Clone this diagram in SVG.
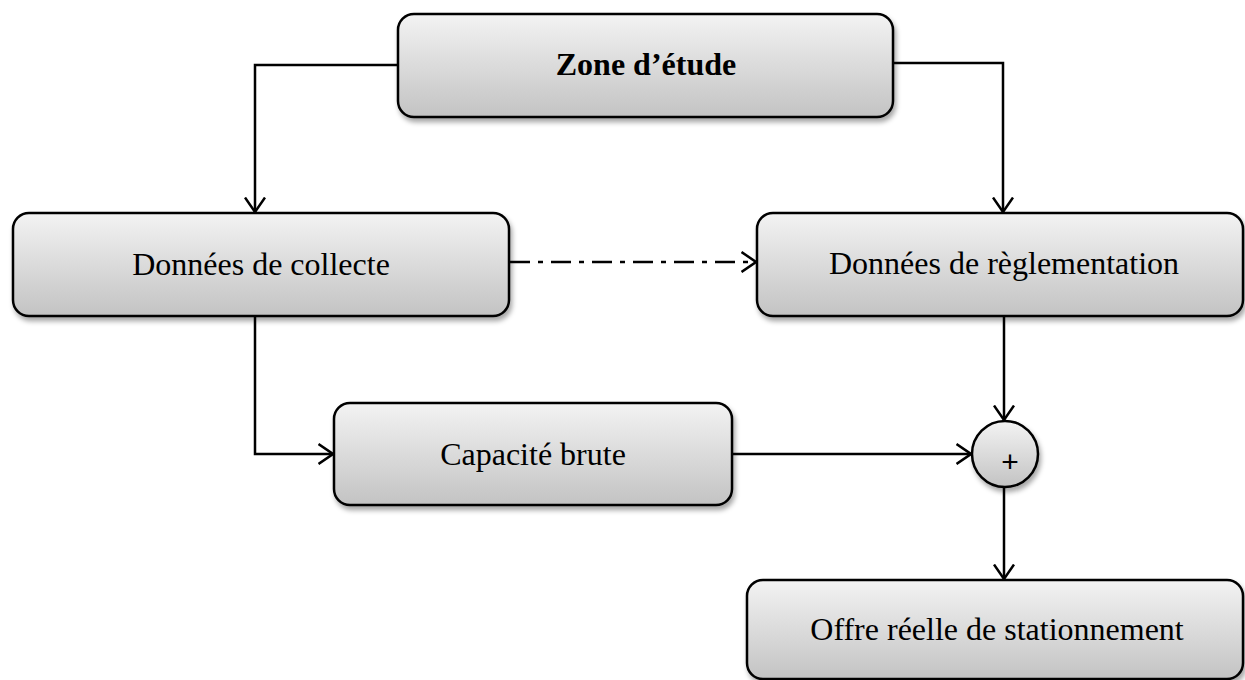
<svg xmlns="http://www.w3.org/2000/svg" width="1245" height="680" viewBox="0 0 1245 680">
  <defs>
    <linearGradient id="g" x1="0" y1="0" x2="0" y2="1">
      <stop offset="0" stop-color="#f3f3f3"/>
      <stop offset="1" stop-color="#c3c3c3"/>
    </linearGradient>
    <filter id="sh" x="-10%" y="-10%" width="125%" height="135%">
      <feDropShadow dx="2" dy="4" stdDeviation="2.5" flood-color="#000" flood-opacity="0.35"/>
    </filter>
    <marker id="arr" viewBox="0 0 17 22" refX="15.5" refY="11" markerWidth="17" markerHeight="22" markerUnits="userSpaceOnUse" orient="auto">
      <path d="M1,1 L15.5,11 L1,21" fill="none" stroke="#000" stroke-width="2.5"/>
    </marker>
    <style>
      .box { fill: url(#g); stroke: #000; stroke-width: 2.5; filter: url(#sh); }
      .lbl { font-family: "Liberation Serif", "Times New Roman", serif; font-size: 32px; fill: #000; text-anchor: middle; }
      .bold { font-weight: bold; font-size: 32px; }
      .conn { fill: none; stroke: #000; stroke-width: 2.5; }
      .dash { stroke-dasharray: 20 8 5 8; }
    </style>
  </defs>
  <rect width="1245" height="680" fill="#fff"/>
  <g id="connectors">
    <path class="conn" d="M398,65 H255 V212" marker-end="url(#arr)"/>
    <path class="conn" d="M893,63 H1003 V212" marker-end="url(#arr)"/>
    <path class="conn dash" d="M510,262 H756" marker-end="url(#arr)"/>
    <path class="conn" d="M255,316 V454 H333" marker-end="url(#arr)"/>
    <path class="conn" d="M732,454 H971" marker-end="url(#arr)"/>
    <path class="conn" d="M1004,316 V420" marker-end="url(#arr)"/>
    <path class="conn" d="M1004,488 V579" marker-end="url(#arr)"/>
  </g>
  <g id="zone">
    <rect class="box" x="398" y="14" width="495" height="103" rx="16"/>
    <text class="lbl bold" x="646" y="75">Zone d’étude</text>
  </g>
  <g id="collecte">
    <rect class="box" x="13" y="213" width="496" height="103" rx="16"/>
    <text class="lbl" x="261" y="275">Données de collecte</text>
  </g>
  <g id="reglementation">
    <rect class="box" x="757" y="213" width="486" height="103" rx="16"/>
    <text class="lbl" x="1004" y="274">Données de règlementation</text>
  </g>
  <g id="capacite">
    <rect class="box" x="334" y="403" width="398" height="102" rx="16"/>
    <text class="lbl" x="533" y="465">Capacité brute</text>
  </g>
  <g id="plus">
    <circle class="box" cx="1005" cy="454" r="33"/>
    <text x="1010" y="472" font-family="Liberation Sans, Arial, sans-serif" font-size="30" text-anchor="middle" fill="#000">+</text>
  </g>
  <g id="offre">
    <rect class="box" x="747" y="580" width="496" height="99" rx="16"/>
    <text class="lbl" x="997" y="640">Offre réelle de stationnement</text>
  </g>
</svg>
